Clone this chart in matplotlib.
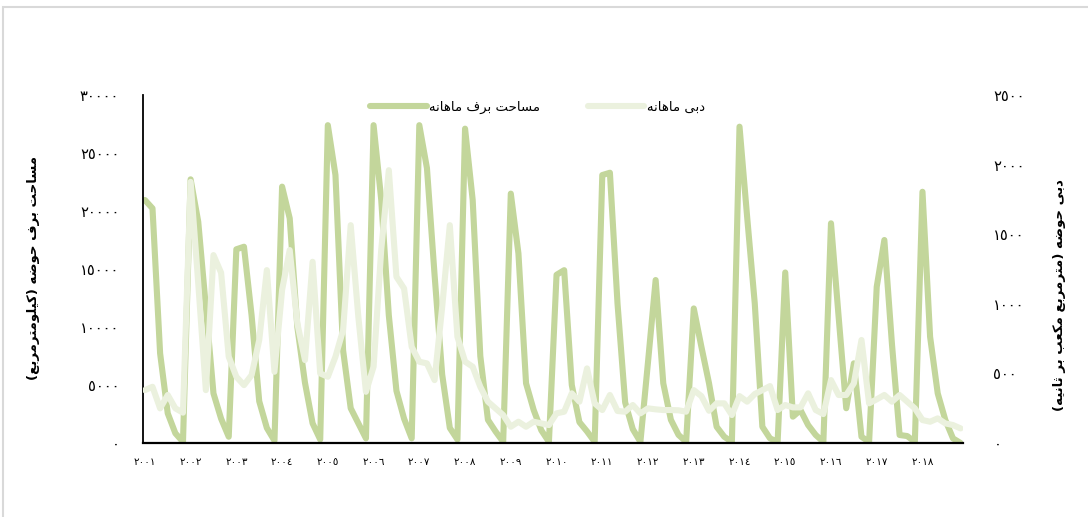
import numpy as np
import matplotlib
matplotlib.use("Agg")
import matplotlib.pyplot as plt
from matplotlib.patches import Rectangle

plt.rcParams['font.family'] = ['DejaVu Sans']

# six readings per year, 2001-2018
years = list(range(2001, 2019))
per_year = 6

snow_area = [
    20950, 20230, 7730, 2560, 840, 100,
    22730, 19080, 11700, 4280, 2100, 540,
    16700, 16920, 11000, 3600, 1300, 200,
    22100, 19370, 10000, 5200, 1700, 300,
    27400, 23100, 8000, 3000, 1700, 400,
    27400, 21000, 11000, 4500, 2100, 400,
    27400, 23700, 14500, 5900, 1300, 300,
    27100, 20950, 7500, 2000, 1000, 100,
    21500, 16350, 5150, 2850, 1100, 100,
    14500, 14900, 5000, 1800, 1000, 100,
    23100, 23300, 12000, 3500, 1200, 100,
    7000, 14050, 5150, 2000, 700, 100,
    11600, 8300, 5150, 1400, 540, 100,
    27270, 19500, 12040, 1400, 400, 100,
    14700, 2270, 2840, 1550, 690, 100,
    18940, 10900, 3000, 6870, 540, 100,
    13470, 17500, 8500, 690, 600, 100,
    21660, 9160, 4280, 1980, 400, 0,
]

discharge = [
    380, 404, 249, 345, 249, 218,
    1876, 1150, 380, 1350, 1223, 620,
    476, 416, 488, 740, 1242, 512,
    1100, 1386, 860, 596, 1302, 500,
    476, 620, 811, 1565, 907, 368,
    548, 1386, 1960, 1194, 1110, 691,
    584, 572, 452, 979, 1565, 763,
    585, 548, 404, 297, 249, 201,
    117, 153, 117, 153, 141, 129,
    213, 225, 357, 297, 536, 285,
    237, 345, 230, 225, 273, 213,
    249, 242, 237, 237, 235, 225,
    380, 337, 232, 285, 285, 201,
    337, 297, 352, 380, 409, 237,
    273, 256, 256, 357, 237, 208,
    452, 345, 345, 429, 740, 285,
    314, 345, 297, 345, 297, 249,
    165, 153, 177, 141, 129, 105,
]

left_ticks = [0, 5000, 10000, 15000, 20000, 25000, 30000]
right_ticks = [0, 500, 1000, 1500, 2000, 2500]

snow_label = "مساحت برف ماهانه"
flow_label = "دبی ماهانه"
left_title = "مساحت برف حوضه (کیلومترمربع)"
right_title = "دبی حوضه (مترمربع مکعب بر ثانیه)"

# presentation forms: isolated, final, initial, medial (None = right-joining only)
FORMS = {
    'ا': (0xFE8D, 0xFE8E, None, None),
    'ب': (0xFE8F, 0xFE90, 0xFE91, 0xFE92),
    'ت': (0xFE95, 0xFE96, 0xFE97, 0xFE98),
    'ث': (0xFE99, 0xFE9A, 0xFE9B, 0xFE9C),
    'ح': (0xFEA1, 0xFEA2, 0xFEA3, 0xFEA4),
    'د': (0xFEA9, 0xFEAA, None, None),
    'ر': (0xFEAD, 0xFEAE, None, None),
    'س': (0xFEB1, 0xFEB2, 0xFEB3, 0xFEB4),
    'ض': (0xFEBD, 0xFEBE, 0xFEBF, 0xFEC0),
    'ع': (0xFEC9, 0xFECA, 0xFECB, 0xFECC),
    'ف': (0xFED1, 0xFED2, 0xFED3, 0xFED4),
    'ک': (0xFED9, 0xFEDA, 0xFEDB, 0xFEDC),
    'ل': (0xFEDD, 0xFEDE, 0xFEDF, 0xFEE0),
    'م': (0xFEE1, 0xFEE2, 0xFEE3, 0xFEE4),
    'ن': (0xFEE5, 0xFEE6, 0xFEE7, 0xFEE8),
    'ه': (0xFEE9, 0xFEEA, 0xFEEB, 0xFEEC),
    'و': (0xFEED, 0xFEEE, None, None),
    'ی': (0xFEEF, 0xFEF0, 0xFEF3, 0xFEF4),
}


def shape(text):
    out = []
    for i, ch in enumerate(text):
        if ch not in FORMS:
            out.append(ch)
            continue
        prev = text[i - 1] if i > 0 else ''
        nxt = text[i + 1] if i + 1 < len(text) else ''
        f = FORMS[ch]
        joins_prev = prev in FORMS and FORMS[prev][2] is not None
        joins_next = f[2] is not None and nxt in FORMS
        if joins_prev and joins_next:
            code = f[3]
        elif joins_prev:
            code = f[1]
        elif joins_next:
            code = f[2]
        else:
            code = f[0]
        out.append(chr(code))
    vis = ''.join(reversed(out))
    return vis.translate(str.maketrans('()', ')('))


def fa_digits(n):
    return str(n).translate(str.maketrans('0123456789', '٠١٢٣٤٥٦٧٨٩'))


snow_color = '#c3d69b'
flow_color = '#ebf1de'

fig = plt.figure(figsize=(10.88, 5.17), dpi=100)
ax = fig.add_axes([0.1314, 0.1431, 0.7536, 0.6731])
ax2 = ax.twinx()

x = np.arange(len(snow_area))
l1, = ax.plot(x, snow_area, color=snow_color, lw=4.4,
              solid_joinstyle='round', solid_capstyle='round')
l2, = ax2.plot(x, discharge, color=flow_color, lw=4.4,
               solid_joinstyle='round', solid_capstyle='round')

ax.set_xlim(-0.25, len(x) - 0.7)
ax.set_ylim(0, 30000)
ax2.set_ylim(0, 2500)

ax.set_yticks(left_ticks)
ax.set_yticklabels([fa_digits(v) for v in left_ticks], fontsize=10.5)
ax2.set_yticks(right_ticks)
ax2.set_yticklabels([fa_digits(v) for v in right_ticks], fontsize=10.5)
ax.set_xticks(x[::per_year])
ax.set_xticklabels([fa_digits(y) for y in years], fontsize=7.5)

ax.tick_params(axis='y', length=0, pad=17)
ax2.tick_params(axis='y', length=0, pad=22)
ax.tick_params(axis='x', length=0, pad=10)

for a in (ax, ax2):
    a.spines['top'].set_visible(False)
    a.spines['right'].set_visible(False)
    a.patch.set_visible(False)
ax2.spines['left'].set_visible(False)
ax2.spines['bottom'].set_visible(False)
ax.spines['left'].set_linewidth(1.3)
ax.spines['bottom'].set_linewidth(1.6)

fig.text(0.031, 0.482, shape(left_title), rotation=90, ha='center', va='center',
         fontsize=9.5, fontweight='bold')
fig.text(0.974, 0.43, shape(right_title), rotation=90, ha='center', va='center',
         fontsize=9.5, fontweight='bold')

fig.legend([l1, l2], [shape(snow_label), shape(flow_label)], ncol=2,
           loc='center', bbox_to_anchor=(0.494, 0.793), frameon=False,
           fontsize=9.5, handlelength=4.3, handletextpad=0.2,
           columnspacing=3.6)

# chart area border
fig.patches.append(Rectangle((3 / 1088, -0.1), 1.2, 1 - 7 / 517 + 0.1,
                             transform=fig.transFigure, fill=False,
                             edgecolor='#d9d9d9', lw=1.5))

fig.savefig('out.png', dpi=100)
